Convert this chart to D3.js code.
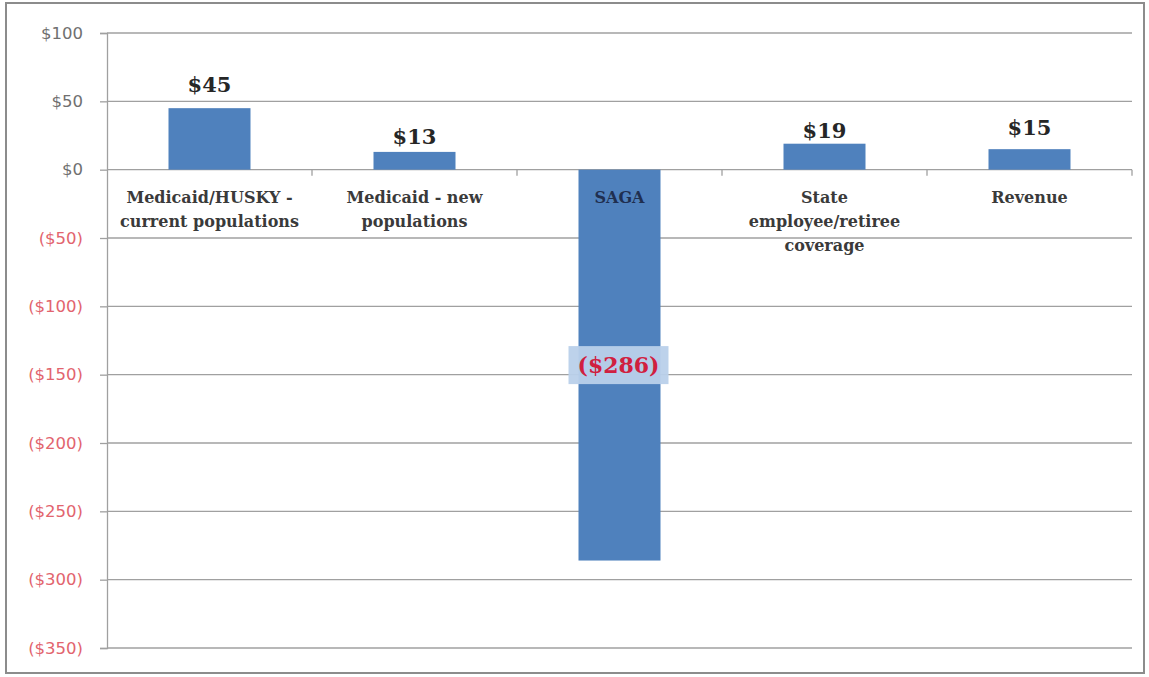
<!DOCTYPE html>
<html>
<head>
<meta charset="utf-8">
<script src="https://cdnjs.cloudflare.com/ajax/libs/d3/7.8.5/d3.min.js"></script>
<style>
  body { margin: 0; background: #fff; }
  #chart svg { display: block; }
</style>
</head>
<body>
<div id="chart"></div>
<script>
// chart data
let categories = ["husky", "newpop", "saga", "state", "revenue"];
let categoryLines = [
  ["Medicaid/HUSKY -", "current populations"],
  ["Medicaid - new", "populations"],
  ["SAGA"],
  ["State", "employee/retiree", "coverage"],
  ["Revenue"]
];
let values = [45, 13, -286, 19, 15];
let valueLabels = ["$45", "$13", "($286)", "$19", "$15"];
let yTicks = [100, 50, 0, -50, -100, -150, -200, -250, -300, -350];

//label gaps above bars (labels were nudged by hand in the original)
let labelGap = [16, 8, 0, 6, 14];

//define positional parameters
let svgWidth = 1149;
let svgHeight = 677;
let plotLeft = 107;
let plotRight = 1132;
let plotTop = 33;
let plotBottom = 648;

let svg = d3.select("#chart")
  .append("svg")
  .attr("width", svgWidth)
  .attr("height", svgHeight);

//outer frame
svg.append("rect")
  .attr("x", 6).attr("y", 3)
  .attr("width", 1138).attr("height", 670)
  .attr("fill", "#fff")
  .attr("stroke", "#8c8c8c")
  .attr("stroke-width", 2);

//scales
let xScale = d3.scaleBand()
  .domain(categories)
  .range([plotLeft, plotRight])
  .paddingInner(0.6)
  .paddingOuter(0.3);

let yScale = d3.scaleLinear()
  .domain([-350, 100])
  .range([plotBottom, plotTop]);

//gridlines
svg.append("g")
  .selectAll("line")
  .data(yTicks)
  .join("line")
  .attr("x1", plotLeft)
  .attr("x2", plotRight)
  .attr("y1", d => yScale(d))
  .attr("y2", d => yScale(d))
  .attr("stroke", "#a0a0a0")
  .attr("stroke-width", 1.3);

//y axis
let yAxis = d3.axisLeft(yScale)
  .tickValues(yTicks)
  .tickSize(7)
  .tickPadding(17)
  .tickFormat(d => d < 0 ? `($${-d})` : `$${d}`);

let yAxisGroup = svg.append("g")
  .attr("transform", `translate(${plotLeft},0)`)
  .call(yAxis);

yAxisGroup.select(".domain").attr("stroke", "#a0a0a0").attr("stroke-width", 1.3);
yAxisGroup.selectAll(".tick line").attr("stroke", "#a0a0a0").attr("stroke-width", 1.3);
yAxisGroup.selectAll(".tick text")
  .attr("font-family", "'DejaVu Sans', sans-serif")
  .attr("font-size", 16.5)
  .attr("fill", d => d < 0 ? "#e2646e" : "#707070");

//category boundary ticks on the zero line
let boundaries = categories.map(c => xScale(c) - xScale.step() * xScale.paddingInner() / 2).slice(1);
boundaries.push(plotRight);
svg.append("g")
  .selectAll("line")
  .data(boundaries)
  .join("line")
  .attr("x1", d => d).attr("x2", d => d)
  .attr("y1", yScale(0)).attr("y2", yScale(0) + 6)
  .attr("stroke", "#a0a0a0")
  .attr("stroke-width", 1.3);

//bars
svg.append("g")
  .selectAll("rect")
  .data(values)
  .join("rect")
  .attr("x", (d, i) => xScale(categories[i]))
  .attr("width", xScale.bandwidth())
  .attr("y", d => yScale(Math.max(0, d)))
  .attr("height", d => Math.abs(yScale(d) - yScale(0)))
  .attr("fill", "#4f81bd");

//category labels
let labelFont = "'DejaVu Serif', serif";
categoryLines.forEach((lines, i) => {
  let cx = xScale(categories[i]) + xScale.bandwidth() / 2;
  let t = svg.append("text")
    .attr("x", cx)
    .attr("y", yScale(0) + 33)
    .attr("text-anchor", "middle")
    .attr("font-family", labelFont)
    .attr("font-weight", "bold")
    .attr("font-size", 16)
    .attr("fill", values[i] < 0 ? "#1f2f50" : "#3a3a3a");
  lines.forEach((l, j) => {
    t.append("tspan")
      .attr("x", cx)
      .attr("dy", j === 0 ? 0 : 24)
      .text(l);
  });
});

//value labels
values.forEach((v, i) => {
  let cx = xScale(categories[i]) + xScale.bandwidth() / 2;
  if (v >= 0) {
    svg.append("text")
      .attr("x", cx)
      .attr("y", yScale(v) - labelGap[i])
      .attr("text-anchor", "middle")
      .attr("font-family", labelFont)
      .attr("font-weight", "bold")
      .attr("font-size", 21)
      .attr("fill", "#262626")
      .text(valueLabels[i]);
  } else {
    let cy = (yScale(v) + yScale(0)) / 2;
    svg.append("rect")
      .attr("x", cx - 51)
      .attr("y", cy - 19)
      .attr("width", 100)
      .attr("height", 38)
      .attr("fill", "#b9d0ea")
      .attr("opacity", 0.95);
    svg.append("text")
      .attr("x", cx - 1)
      .attr("y", cy + 8)
      .attr("text-anchor", "middle")
      .attr("font-family", labelFont)
      .attr("font-weight", "bold")
      .attr("font-size", 22)
      .attr("fill", "#d0203f")
      .text(valueLabels[i]);
  }
});
</script>
</body>
</html>
